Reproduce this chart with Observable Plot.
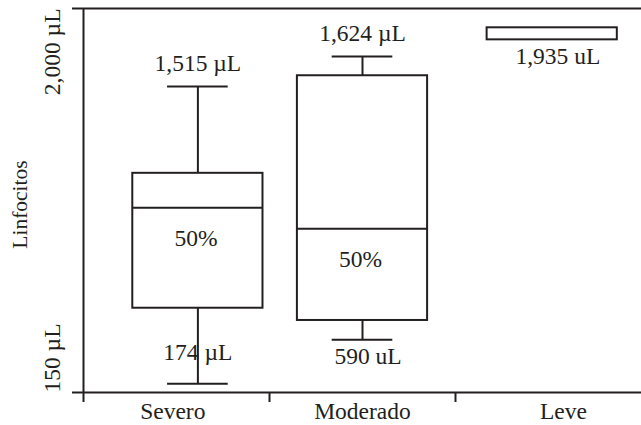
<!DOCTYPE html>
<html>
<head>
<meta charset="utf-8">
<script src="https://cdn.jsdelivr.net/npm/d3@7"></script>
<script src="https://cdn.jsdelivr.net/npm/@observablehq/plot@0.6"></script>
<style>
  html, body { margin: 0; padding: 0; background: #fff; }
  svg text { font-family: "Liberation Serif", "Times New Roman", serif; }
</style>
</head>
<body>
<div id="chart"></div>
<script>
// ---- data ----
const categories   = ["Severo", "Moderado", "Leve"];
const whiskerLow   = [192, 404, null];
const q1           = [556, 497, 1849];
const median       = [1040, 939, null];
const q3           = [1206, 1676, 1907];
const whiskerHigh  = [1624, 1769, null];
const highLabels   = ["1,515 µL", "1,624 µL", null];
const lowLabels    = ["174 µL", "590 uL", "1,935 uL"];
const centerLabels = ["50%", "50%", null];
const yTickValues  = [150, 2000];
const yTickLabels  = ["150 µL", "2,000 µL"];
const yTitle = "Linfocitos";

const ink = "#231f20";
const fs = 23.5;
const rows = categories.map((c, i) => ({
  cat: c, i, low: whiskerLow[i], q1: q1[i], med: median[i], q3: q3[i], high: whiskerHigh[i],
  hi: highLabels[i], lo: lowLabels[i], mid: centerLabels[i]
}));
// layout: where each box sits inside its band (as in the original drawing)
const bandShift = [0.615, 0.5, 0.52];
const cx = d => d.i + bandShift[d.i];
const boxHalf = 0.35, capHalf = 0.163;
const T = {fill: ink, fontSize: fs};

const chart = Plot.plot({
  width: 641,
  height: 425,
  marginLeft: 83,
  marginRight: 0,
  marginTop: 8,
  marginBottom: 33,
  x: {domain: [0, 3], axis: null},
  y: {domain: [150, 2000], axis: null},
  style: {fontFamily: "'Liberation Serif', 'Times New Roman', serif", fontSize: fs + "px", color: ink, background: "#fff", overflow: "visible"},
  marks: [
    // frame lines
    Plot.ruleY(yTickValues, {stroke: ink, strokeWidth: 2}),
    Plot.ruleX([0], {stroke: ink, strokeWidth: 2}),
    // tick marks
    Plot.axisY({ticks: yTickValues, tickSize: 11, tickFormat: () => "", stroke: ink, strokeWidth: 2}),
    Plot.axisX({ticks: [0, 1, 2], tickSize: 10, tickFormat: () => "", stroke: ink, strokeWidth: 2}),
    // category labels
    Plot.axisX({ticks: [0.48, 1.5, 2.58], tickSize: 0, tickPadding: 10, tickFormat: d => categories[Math.floor(d)], fontSize: fs, fill: ink}),
    // y tick labels (rotated)
    Plot.text([1], {y: yTickValues[1], text: [yTickLabels[1]], frameAnchor: "left", dx: -31, rotate: -90, textAnchor: "end", ...T}),
    Plot.text([0], {y: yTickValues[0], text: [yTickLabels[0]], frameAnchor: "left", dx: -31, rotate: -90, textAnchor: "start", ...T}),
    Plot.text([yTitle], {frameAnchor: "left", dx: -63, dy: 4, rotate: -90, textAnchor: "middle", fill: ink, fontSize: 21.5}),
    // whiskers
    Plot.ruleX(rows.filter(d => d.high != null), {x: cx, y1: "q3", y2: "high", stroke: ink, strokeWidth: 2}),
    Plot.ruleX(rows.filter(d => d.low != null), {x: cx, y1: "q1", y2: "low", stroke: ink, strokeWidth: 2}),
    Plot.ruleY(rows.filter(d => d.high != null), {y: "high", x1: d => cx(d) - capHalf, x2: d => cx(d) + capHalf, stroke: ink, strokeWidth: 2}),
    Plot.ruleY(rows.filter(d => d.low != null), {y: "low", x1: d => cx(d) - capHalf, x2: d => cx(d) + capHalf, stroke: ink, strokeWidth: 2}),
    // boxes
    Plot.rect(rows, {x1: d => cx(d) - boxHalf, x2: d => cx(d) + boxHalf, y1: "q1", y2: "q3", fill: "#fff", stroke: ink, strokeWidth: 2}),
    Plot.ruleY(rows.filter(d => d.med != null), {y: "med", x1: d => cx(d) - boxHalf, x2: d => cx(d) + boxHalf, stroke: ink, strokeWidth: 2}),
    // annotations
    Plot.text(rows.filter(d => d.hi), {x: cx, y: "high", text: "hi", dy: -23, ...T}),
    Plot.text(rows.filter(d => d.mid), {x: d => cx(d) - 0.01, y: "med", text: "mid", dy: 31, ...T}),
    Plot.text(rows.filter(d => d.lo && d.i === 0), {x: cx, y: "low", text: "lo", dy: -31, ...T}),
    Plot.text(rows.filter(d => d.lo && d.i !== 0), {x: d => cx(d) + 0.03, y: d => d.low ?? d.q1, text: "lo", dy: 17, ...T})
  ]
});
document.getElementById("chart").appendChild(chart);
</script>
</body>
</html>
